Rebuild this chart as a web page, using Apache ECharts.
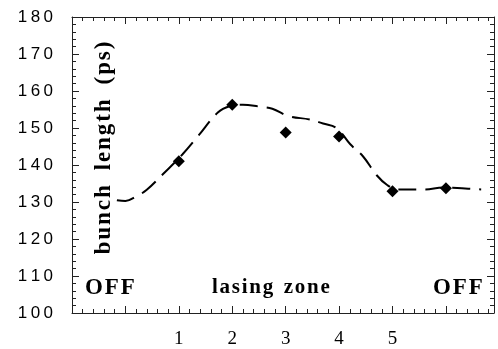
<!DOCTYPE html>
<html><head><meta charset="utf-8">
<script src="https://cdn.jsdelivr.net/npm/echarts@6/dist/echarts.min.js"></script>
<style>html,body{margin:0;padding:0;background:#fff}#c{width:498px;height:349px}</style>
</head><body><div id="c"></div>
<script>
// measured diamonds: [position, bunch length ps]
const pointX = [1, 2, 3, 4, 5, 6];
const pointY = [141.0, 156.3, 148.8, 147.7, 132.9, 133.7];
// dashed trend curve
const curveX = [-0.16, 0.0, 0.2, 0.4, 0.7, 1.07, 1.37, 1.73, 1.95, 2.2, 2.5, 2.75, 3.06, 3.45, 3.7, 3.95, 4.21, 4.45, 4.7, 4.9, 5.1, 5.6, 5.95, 6.3, 6.66];
const curveY = [130.5, 130.3, 131.5, 133.3, 137.5, 142.9, 148.0, 154.2, 155.9, 156.3, 155.8, 155.2, 153.2, 152.3, 151.2, 150.0, 145.6, 142.3, 137.3, 134.6, 133.4, 133.4, 133.9, 133.7, 133.4];
const xTickLabels = ['1', '2', '3', '4', '5'];
const yTickLabels = ['100','110','120','130','140','150','160','170','180'];

const sp = s => s.split('').join('\u2009');
const hp = s => s.split('').join('\u200A');
const chart = echarts.init(document.getElementById('c'));
const tickStyle = {color: '#222', width: 1};
const commonX = {
  type: 'value', min: -1, max: 6.9, interval: 1,
  axisLine: {show: true, onZero: false, lineStyle: {color: '#222', width: 1}},
  axisTick: {show: true, inside: true, length: 7, lineStyle: tickStyle},
  minorTick: {show: true, splitNumber: 5, length: 4, lineStyle: tickStyle},
  splitLine: {show: false}
};
const commonY = {
  type: 'value', min: 100, max: 180, interval: 10,
  axisLine: {show: true, onZero: false, lineStyle: {color: '#222', width: 1}},
  axisTick: {show: true, inside: true, length: 7, lineStyle: tickStyle},
  minorTick: {show: true, splitNumber: 5, length: 4, lineStyle: tickStyle},
  splitLine: {show: false}
};
const txt = {fontFamily: 'Liberation Serif', fontWeight: 'bold', fontSize: 21, fill: '#000', verticalAlign: 'middle'};
chart.setOption({
  animation: false,
  grid: {left: 72, top: 17, right: 4, bottom: 35},
  xAxis: [
    Object.assign({}, commonX, {position: 'bottom',
      axisLabel: {show: true, margin: 17, color: '#000', fontFamily: 'Liberation Serif', fontSize: 19,
        formatter: v => xTickLabels.includes(String(v)) ? String(v) : ''}}),
    Object.assign({}, commonX, {position: 'top', axisLabel: {show: false}})
  ],
  yAxis: [
    Object.assign({}, commonY, {position: 'left',
      axisLabel: {show: true, margin: 19, color: '#000', fontFamily: 'Liberation Sans', fontSize: 17,
        formatter: v => { const s = String(v); return yTickLabels.includes(s) ? sp(s) : ''; }}}),
    Object.assign({}, commonY, {position: 'right', axisLabel: {show: false}})
  ],
  graphic: [
    {type: 'text', x: 104, y: 148, rotation: Math.PI / 2,
      style: Object.assign({}, txt, {text: hp('bunch') + '\u2009 \u2009' + hp('length') + '\u2009 \u2009' + hp('(ps)'), fontSize: 23, align: 'center'})},
    {type: 'text', x: 85, y: 288, style: Object.assign({}, txt, {text: hp('OFF'), fontSize: 23})},
    {type: 'text', x: 212, y: 288, style: Object.assign({}, txt, {text: hp('lasing') + '  ' + hp('zone')})},
    {type: 'text', x: 433, y: 288, style: Object.assign({}, txt, {text: hp('OFF'), fontSize: 23})}
  ],
  series: [
    {type: 'line', xAxisIndex: 0, yAxisIndex: 0, smooth: 0.4, symbol: 'none',
      data: curveX.map((x, i) => [x, curveY[i]]),
      lineStyle: {color: '#000', width: 2, type: [18, 9]}},
    {type: 'scatter', xAxisIndex: 0, yAxisIndex: 0, symbol: 'diamond', symbolSize: 12,
      data: pointX.map((x, i) => [x, pointY[i]]),
      itemStyle: {color: '#000', opacity: 1}}
  ]
});
</script></body></html>
